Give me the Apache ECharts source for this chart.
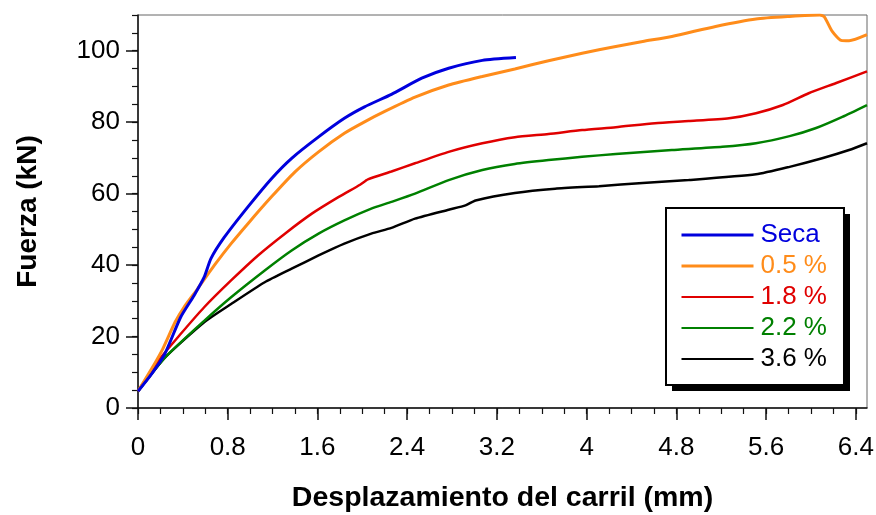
<!DOCTYPE html>
<html>
<head>
<meta charset="utf-8">
<script src="https://cdn.jsdelivr.net/npm/echarts@6/dist/echarts.min.js"></script>
<style>
  html, body { margin: 0; padding: 0; background: #fff; }
  #chart { width: 876px; height: 515px; }
</style>
</head>
<body>
<div id="chart"></div>
<script>
// curvas fuerza-desplazamiento [mm, kN]
var seca = [[0,4.7],[0.12,9.5],[0.24,15.2],[0.38,25.4],[0.5,31.5],[0.59,36.6],[0.65,41.8],[0.77,47.8],[0.98,56.3],[1.19,64.2],[1.37,69.9],[1.61,75.9],[1.84,81.1],[2.02,84.3],[2.26,87.8],[2.53,92.3],[2.77,95.1],[3.07,97.3],[3.37,98.1]];
var p05 = [[0,4.7],[0.12,10.9],[0.22,16.5],[0.33,24.0],[0.41,28.2],[0.53,33.3],[0.68,39.9],[0.83,46.0],[0.98,51.6],[1.19,59.1],[1.4,66.1],[1.61,71.7],[1.84,76.9],[2.02,80.1],[2.2,83.0],[2.47,87.0],[2.77,90.4],[3.07,92.8],[3.36,94.9],[3.66,97.2],[3.96,99.3],[4.26,101.2],[4.5,102.6],[4.76,104.0],[5.15,106.8],[5.51,108.9],[5.81,109.6],[6.08,110],[6.12,109.5],[6.19,105.4],[6.27,102.9],[6.34,102.8],[6.5,104.5]];
var p18 = [[0,4.7],[0.18,13.2],[0.38,20.7],[0.59,28.2],[0.83,35.7],[1.07,42.7],[1.31,48.8],[1.55,54.4],[1.79,59.1],[1.98,62.5],[2.05,64.0],[2.26,66.2],[2.47,68.5],[2.77,71.7],[3.07,74.1],[3.36,75.8],[3.66,76.7],[3.96,77.8],[4.26,78.6],[4.61,79.7],[4.91,80.3],[5.27,81.1],[5.51,82.5],[5.75,84.8],[5.98,88.1],[6.22,90.9],[6.5,94.2]];
var p22 = [[0,4.7],[0.24,14.1],[0.59,24.4],[0.83,31.0],[1.13,38.5],[1.37,44.1],[1.61,48.8],[1.84,52.5],[2.08,55.8],[2.26,57.7],[2.47,60.0],[2.77,63.8],[3.07,66.6],[3.36,68.3],[3.66,69.4],[3.96,70.3],[4.26,71.1],[4.76,72.2],[5.21,73.1],[5.51,74.1],[5.81,76.1],[6.04,78.3],[6.28,81.5],[6.5,84.8]];
var p36 = [[0,4.7],[0.24,14.1],[0.59,24.0],[0.83,29.1],[1.13,35.2],[1.37,39.0],[1.61,42.7],[1.84,46.0],[2.08,48.8],[2.26,50.4],[2.47,53.0],[2.77,55.5],[2.92,56.7],[3.01,58.1],[3.36,60.2],[3.72,61.4],[4.11,62.1],[4.5,63.0],[4.91,63.8],[5.51,65.4],[5.81,67.5],[6.1,69.9],[6.34,72.2],[6.5,74.1]];

var nombres = ['Seca', '0.5 %', '1.8 %', '2.2 %', '3.6 %'];
var colores = ['#0000dd', '#ff8c1a', '#e00000', '#008000', '#000000'];
var grosor = [3, 3, 2.5, 2.5, 2.5];
var curvas = [seca, p05, p18, p22, p36];

// marcas de los ejes
var xTicks = [0, 0.8, 1.6, 2.4, 3.2, 4, 4.8, 5.6, 6.4];
var yTicks = [0, 20, 40, 60, 80, 100];
var xMinor = [];
for (var i = 0; i <= 32; i++) xMinor.push(+(i * 0.2).toFixed(1));
var yMinor = [];
for (var j = 0; j <= 22; j++) yMinor.push(j * 5);

var fuente = 'Liberation Sans, Arial, Helvetica, sans-serif';
var myChart = echarts.init(document.getElementById('chart'));

var series = [];
for (var k = 0; k < curvas.length; k++) {
  series.push({
    name: nombres[k],
    type: 'line',
    data: curvas[k],
    symbol: 'none',
    showSymbol: false,
    smooth: 0.2,
    xAxisIndex: 0,
    yAxisIndex: 0,
    lineStyle: { color: colores[k], width: grosor[k] },
    itemStyle: { color: colores[k] },
    z: 10 - k
  });
}

var legendData = [];
for (var m = 0; m < nombres.length; m++) {
  legendData.push({
    name: nombres[m],
    textStyle: { color: colores[m] },
    itemStyle: { opacity: 0 },
    lineStyle: { width: m < 2 ? 3 : 2 }
  });
}

var option = {
  animation: false,
  backgroundColor: '#fff',
  grid: {
    left: 138, right: 9, top: 15, bottom: 107,
    outerBoundsMode: 'none',
    containLabel: false,
    show: true, borderColor: '#666', borderWidth: 1
  },
  // sombra de la leyenda
  graphic: [{
    type: 'rect', z: 3,
    shape: { x: 672, y: 214, width: 178, height: 177 },
    style: { fill: '#000' }
  }],
  legend: {
    orient: 'vertical',
    left: 666, top: 208, z: 5,
    padding: [14, 17, 13, 14],
    itemWidth: 72, itemHeight: 14, itemGap: 5,
    backgroundColor: '#fff',
    borderColor: '#000', borderWidth: 2,
    selectedMode: false,
    textStyle: { fontSize: 26, fontFamily: fuente, padding: [0, 0, 0, 2] },
    data: legendData
  },
  xAxis: [{
    type: 'value', position: 'bottom',
    min: 0, max: 6.5,
    name: 'Desplazamiento del carril (mm)',
    nameLocation: 'middle', nameGap: 76,
    nameTextStyle: { fontSize: 28.5, fontWeight: 'bold', color: '#000', fontFamily: fuente },
    axisLine: { lineStyle: { color: '#111', width: 1.5 } },
    axisTick: { customValues: xTicks, length: 12, lineStyle: { color: '#111', width: 1.5 } },
    axisLabel: { customValues: xTicks, fontSize: 26, color: '#000', fontFamily: fuente, margin: 27 },
    splitLine: { show: false }
  }, {
    type: 'value', position: 'bottom',
    min: 0, max: 6.5,
    axisLine: { show: false },
    axisTick: { customValues: xMinor, length: 6, lineStyle: { color: '#111', width: 1.2 } },
    axisLabel: { show: false },
    splitLine: { show: false }
  }],
  yAxis: [{
    type: 'value', position: 'left',
    min: 0, max: 110,
    name: 'Fuerza (kN)',
    nameLocation: 'middle', nameGap: 96,
    nameTextStyle: { fontSize: 28, fontWeight: 'bold', color: '#000', fontFamily: fuente },
    axisLine: { show: true, lineStyle: { color: '#111', width: 1.5 } },
    axisTick: { show: true, customValues: yTicks, length: 12, lineStyle: { color: '#111', width: 1.5 } },
    axisLabel: { customValues: yTicks, fontSize: 26, color: '#000', fontFamily: fuente, margin: 18 },
    splitLine: { show: false }
  }, {
    type: 'value', position: 'left',
    min: 0, max: 110,
    axisLine: { show: false },
    axisTick: { show: true, customValues: yMinor, length: 6, lineStyle: { color: '#111', width: 1.2 } },
    axisLabel: { show: false },
    splitLine: { show: false }
  }],
  series: series
};

myChart.setOption(option);
</script>
</body>
</html>
